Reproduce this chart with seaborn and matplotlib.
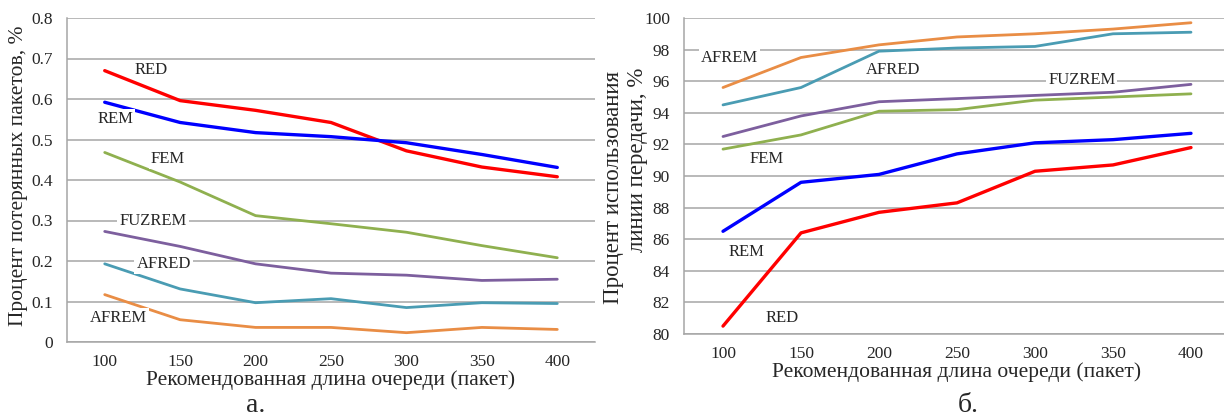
import numpy as np
import pandas as pd
import matplotlib
matplotlib.use("Agg")
import matplotlib.pyplot as plt
import seaborn as sns

queue = [100, 150, 200, 250, 300, 350, 400]
series = ["RED", "REM", "FEM", "FUZREM", "AFRED", "AFREM"]

loss_red = [0.670, 0.596, 0.572, 0.542, 0.472, 0.432, 0.408]
loss_rem = [0.592, 0.542, 0.517, 0.507, 0.492, 0.463, 0.431]
loss_fem = [0.468, 0.395, 0.312, 0.292, 0.271, 0.238, 0.208]
loss_fuzrem = [0.273, 0.236, 0.193, 0.170, 0.165, 0.152, 0.155]
loss_afred = [0.193, 0.131, 0.097, 0.107, 0.085, 0.097, 0.095]
loss_afrem = [0.117, 0.055, 0.036, 0.036, 0.023, 0.036, 0.031]

util_red = [80.5, 86.4, 87.7, 88.3, 90.3, 90.7, 91.8]
util_rem = [86.5, 89.6, 90.1, 91.4, 92.1, 92.3, 92.7]
util_fem = [91.7, 92.6, 94.1, 94.2, 94.8, 95.0, 95.2]
util_fuzrem = [92.5, 93.8, 94.7, 94.9, 95.1, 95.3, 95.8]
util_afred = [94.5, 95.6, 97.9, 98.1, 98.2, 99.0, 99.1]
util_afrem = [95.6, 97.5, 98.3, 98.8, 99.0, 99.3, 99.7]

colors = {"RED": "#FF0000", "REM": "#0000FF", "FEM": "#8FB04F",
          "FUZREM": "#7D5F9E", "AFRED": "#4A9CB3", "AFREM": "#E98D45"}
widths = {"RED": 2.4, "REM": 2.4, "FEM": 2.0, "FUZREM": 2.0, "AFRED": 2.0, "AFREM": 2.0}

loss = dict(zip(series, [loss_red, loss_rem, loss_fem, loss_fuzrem, loss_afred, loss_afrem]))
util = dict(zip(series, [util_red, util_rem, util_fem, util_fuzrem, util_afred, util_afrem]))

def long_df(d):
    rows = []
    for s in series:
        for q, v in zip(queue, d[s]):
            rows.append({"queue": q, "value": v, "series": s})
    return pd.DataFrame(rows)

sns.set_theme(style="white")
plt.rcParams["font.family"] = ["Liberation Serif", "DejaVu Serif"]

W, H = 1224, 418
fig = plt.figure(figsize=(W / 100, H / 100), dpi=100)
ax1 = fig.add_axes([67/W, 1-342/H, 528/W, 324/H])
ax2 = fig.add_axes([684/W, 1-334/H, 546/W, 316/H])

# label positions: (x in queue units, y)
loss_labels = {"RED": (131, 0.672), "REM": (107, 0.55), "FEM": (142, 0.452),
               "FUZREM": (132, 0.298), "AFRED": (139, 0.193), "AFREM": (109, 0.06)}
util_labels = {"RED": (138, 81.0), "REM": (115, 85.2), "FEM": (128, 91.1),
               "FUZREM": (330, 96.1), "AFRED": (209, 96.7), "AFREM": (104, 97.5)}

grid_c = "#A6A6A6"
for ax, d, ylim, yticks, yfmt, labels in [
        (ax1, loss, (0, 0.8), np.arange(0, 0.81, 0.1), lambda v: "0" if v == 0 else f"{v:.1f}", loss_labels),
        (ax2, util, (80, 100), np.arange(80, 101, 2), lambda v: f"{v:.0f}", util_labels)]:
    df = long_df(d)
    sns.lineplot(data=df, x="queue", y="value", hue="series", palette=colors,
                 ax=ax, legend=False, estimator=None, sort=False)
    for line, s in zip(ax.get_lines(), series):
        line.set_linewidth(widths[s])
        line.set_solid_capstyle("round")
        line.set_zorder(3)
    ax.set_xlim(75, 425)
    ax.set_ylim(*ylim)
    ax.set_yticks(yticks)
    ax.set_yticklabels([yfmt(v) for v in yticks], fontsize=12.5)
    ax.set_xticks(queue)
    ax.set_xticklabels([str(q) for q in queue], fontsize=12.5)
    ax.set_xticks(np.arange(75, 426, 50), minor=True)
    ax.tick_params(axis="x", which="major", length=0, pad=9)
    ax.tick_params(axis="x", which="minor", length=5, width=1, color=grid_c, direction="out")
    ax.tick_params(axis="y", length=4, width=1, color=grid_c, direction="out", pad=6)
    ax.yaxis.grid(True, color=grid_c, linewidth=1.1)
    ax.set_axisbelow(True)
    for sp in ["top", "right"]:
        ax.spines[sp].set_visible(False)
    for sp in ["left", "bottom"]:
        ax.spines[sp].set_color(grid_c)
        ax.spines[sp].set_linewidth(1.1)
    ax.set_xlabel("Рекомендованная длина очереди (пакет)", fontsize=15.5, labelpad=0)
    ax.set_ylabel("")
    for s, (lx, ly) in labels.items():
        ax.text(lx, ly, s, fontsize=12, ha="center", va="center", zorder=4,
                bbox=dict(facecolor="white", edgecolor="none", pad=1.5))
    ax.patch.set_alpha(0)

fig.text(19/W, 1-176/H, "Процент потерянных пакетов, %", fontsize=15.5,
         rotation=90, ha="center", va="center")
fig.text(613/W, 1-188/H, "Процент использования", fontsize=16.5,
         rotation=90, ha="center", va="center")
fig.text(637/W, 1-160/H, "линии передачи, %", fontsize=16.5,
         rotation=90, ha="center", va="center")

fig.text(256/W, 1-405/H, "а.", fontsize=20, ha="center", va="center")
fig.text(968/W, 1-405/H, "б.", fontsize=20, ha="center", va="center")

fig.savefig("out.png", dpi=100)
